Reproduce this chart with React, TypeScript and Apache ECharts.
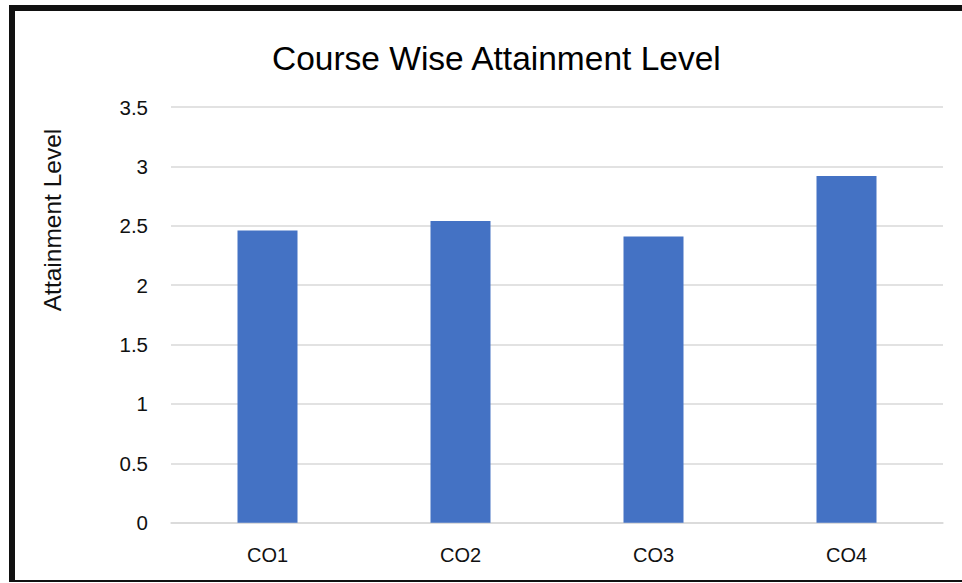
import React, { useEffect, useRef } from "react";
import * as echarts from "echarts";

const categories = ["CO1", "CO2", "CO3", "CO4"];
const attainment = [2.46, 2.54, 2.41, 2.92];
const yMin = 0;
const yMax = 3.5;
const yInterval = 0.5;
const titleText = "Course Wise Attainment Level";
const yAxisTitle = "Attainment Level";

const FONT = "'Liberation Sans', Arial, sans-serif";

export default function App() {
  const ref = useRef<HTMLDivElement>(null);
  useEffect(() => {
    document.body.style.margin = "0";
    const chart = echarts.init(ref.current!, null, { renderer: "svg" });
    chart.setOption({
      animation: false,
      backgroundColor: "#ffffff",
      title: {
        text: titleText,
        left: 267,
        top: 36,
        textStyle: { fontFamily: FONT, fontSize: 33.5, fontWeight: "normal", color: "#000000" },
      },
      grid: { left: 171, right: 19, top: 107, bottom: 60.3, containLabel: false },
      xAxis: {
        type: "category",
        data: categories,
        axisLine: { show: true, lineStyle: { color: "#d9d9d9", width: 1.5 } },
        axisTick: { show: false },
        axisLabel: { fontFamily: FONT, fontSize: 20, color: "#111111", margin: 22 },
      },
      yAxis: {
        type: "value",
        min: yMin,
        max: yMax,
        interval: yInterval,
        axisLine: { show: false },
        axisTick: { show: false },
        axisLabel: { fontFamily: FONT, fontSize: 20.5, color: "#111111", margin: 23 },
        splitLine: { lineStyle: { color: "#d9d9d9", width: 1.5 } },
      },
      series: [
        {
          type: "bar",
          data: attainment,
          barWidth: 60,
          itemStyle: { color: "#4472C4" },
        },
      ],
      graphic: [
        {
          type: "text",
          x: 52,
          y: 220,
          rotation: Math.PI / 2,
          style: {
            text: yAxisTitle,
            fontFamily: FONT,
            fontSize: 24.5,
            fill: "#111111",
            textAlign: "center",
            textVerticalAlign: "middle",
          },
        },
        { type: "rect", shape: { x: 9, y: 5, width: 953, height: 6 }, style: { fill: "#111111" } },
        { type: "rect", shape: { x: 9, y: 5, width: 6, height: 577 }, style: { fill: "#111111" } },
        { type: "rect", shape: { x: 9, y: 580, width: 953, height: 2 }, style: { fill: "#111111" } },
      ],
    });
    return () => chart.dispose();
  }, []);
  return (
    <div
      ref={ref}
      style={{ position: "absolute", left: 0, top: 0, width: 962, height: 583 }}
    />
  );
}
